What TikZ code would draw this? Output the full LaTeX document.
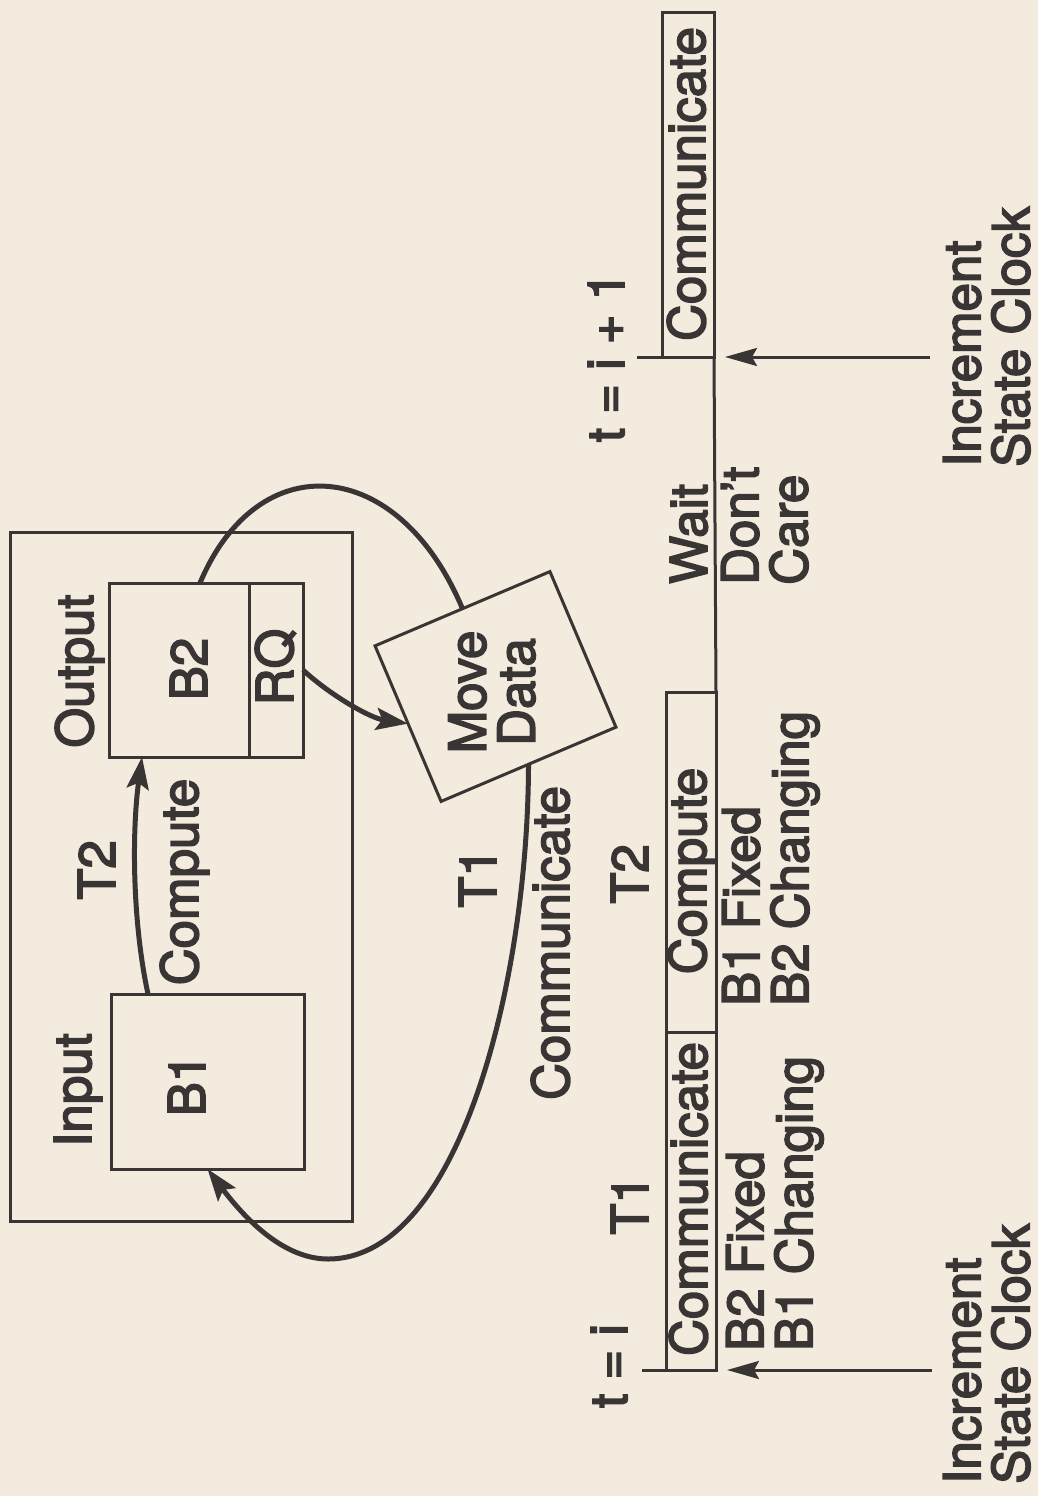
\documentclass[tikz,border=0pt]{standalone}
\usepackage{fontspec}
\setmainfont{TeX Gyre Heros}
\usetikzlibrary{arrows.meta}
\definecolor{paper}{RGB}{242,235,222}
\definecolor{ink}{RGB}{58,53,53}
\newcommand\heavyink{\special{pdf:literal direct 2 Tr 1.6 w}}

\begin{document}
\begin{tikzpicture}[x=1pt,y=-1pt,
    every node/.style={text=ink,inner sep=0pt,font=\fontsize{51}{49}\selectfont\heavyink},
    txt/.style={rotate=90,anchor=base},
    para/.style={rotate=90,anchor=north west,align=left},
    frame/.style={draw=ink,line width=3pt,outer sep=0pt},
    flow/.style={draw=ink,line width=5pt,-{Stealth[length=32pt,width=22pt,inset=6pt]}},
    clk/.style={draw=ink,line width=3pt,-{Stealth[length=32pt,width=18pt,inset=5pt]}}]
        \useasboundingbox (0,0) rectangle (1038,1496);
        \fill[paper] (0,0) rectangle (1038,1496);
        \node[frame,minimum width=342pt,minimum height=689pt] (outer) at (181,876.5) {};
        \node[frame,minimum width=193pt,minimum height=175pt] (b1) at (207.5,1081.5) {};
        \node[frame,minimum width=140pt,minimum height=174pt] (b2) at (179,670) {};
        \node[frame,minimum width=54pt,minimum height=174pt,anchor=west] (rq) at (b2.east) {};
        \node[frame,rotate=23,minimum width=190pt,minimum height=169pt] (move) at (495.5,686.5) {};
        \node[txt] (input) at (91,1090) {Input};
        \node[txt] (output) at (93,671) {Output};
        \node[txt] (lblb1) at (205,1085) {B1};
        \node[txt] (lblb2) at (207,669) {B2};
        \node[txt] (lblrq) at (293,667) {RQ};
        \node[txt] (lblt2) at (115,870) {T2};
        \node[txt] (lblcompute) at (198,882) {Compute};
        \node[txt] (lblt1) at (496,878) {T1};
        \node[txt] (lblcomm) at (569,943) {Communicate};
        \node[rotate=90,align=center] (lblmove) at (492,692) {Move\\Data};
        \draw[flow] ([xshift=37pt]b1.north west) .. controls (132,920) and (132,830) .. ([xshift=33pt]b2.south west);
        \draw[flow] (rq.east) .. controls (330,695) and (370,718) .. (move.west);
        \draw[ink,line width=5pt] ([xshift=91pt]b2.north west) .. controls (258,445) and (398,455) .. (move.north);
        \coordinate (loopbottom) at (328,1259);
        \draw[flow] (move.south) .. controls (528,980) and (460,1259) .. (loopbottom)
            .. controls (280,1259) and (240,1212) .. (b1.south);
        \node[frame,minimum width=50pt,minimum height=338pt] (comm1) at (691,1201) {};
        \node[frame,minimum width=50pt,minimum height=340pt,anchor=south] (comp) at (comm1.north) {};
        \node[frame,minimum width=52pt,minimum height=344pt] (comm2) at (688,185) {};
        \coordinate (tick0) at (642,1370);
        \coordinate (tick1) at (637,357);
        \draw[frame] (comm2.south east) -- (comp.north east);
        \draw[frame] (tick0) -- (comm1.south west);
        \draw[frame] (tick1) -- (comm2.south west);
        \node[txt] (time0) at (627,1366) {t = i};
        \node[txt] (time1) at (624,357) {t = i + 1};
        \node[txt] (slot1) at (648,1205) {T1};
        \node[txt] (slot2) at (648,874) {T2};
        \node[txt] (txtcomm1) at (707,1199) {Communicate};
        \node[txt] (txtcomp) at (706,871) {Compute};
        \node[txt] (txtcomm2) at (705,184) {Communicate};
        \node[txt] (txtwait) at (707,534) {Wait};
        \node[para] (state1) at (726,1351) {B2 Fixed\\B1 Changing};
        \node[para] (state2) at (722,1006) {B1 Fixed\\B2 Changing};
        \node[para] (state3) at (721,585) {Don’t\\Care};
        \foreach \Box/\Start in {comm1/1484,comm2/467}
        {
          \draw[clk] ([xshift=216pt]\Box.south east) -- ([xshift=11pt]\Box.south east);
          \node[para] (clock\Box) at (943,\Start) {Increment\\State Clock};
        }
\end{tikzpicture}
\end{document}
